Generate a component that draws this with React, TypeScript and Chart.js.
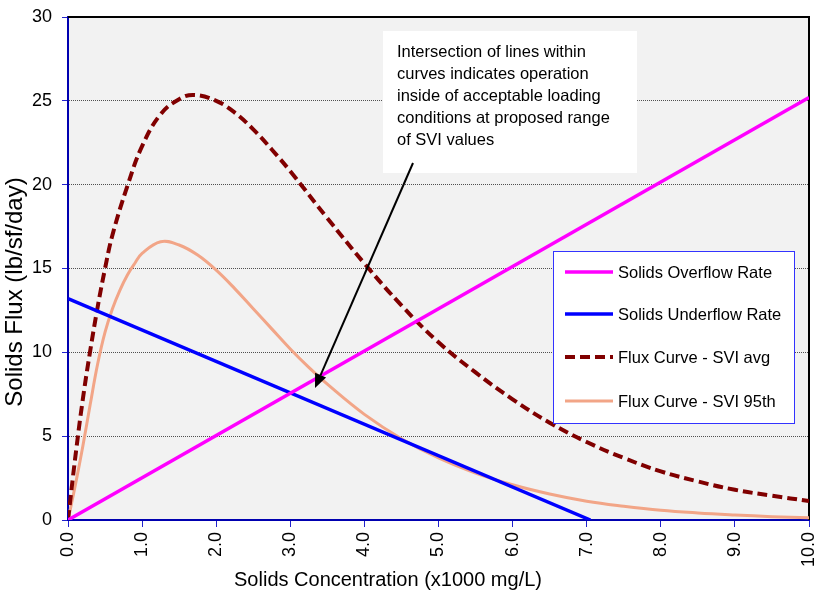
import { useEffect, useRef } from "react";
import { Chart, registerables } from "chart.js";

Chart.register(...registerables);

// ---------- data ----------
const xTickValues = [0, 1, 2, 3, 4, 5, 6, 7, 8, 9, 10];
const yTickValues = [0, 5, 10, 15, 20, 25, 30];

const overflowConc = [0, 10];
const overflowFlux = [0, 25.2];

const underflowConc = [0, 7.05];
const underflowFlux = [13.2, 0];

const avgConc = [0, 0.1, 0.2, 0.3, 0.4, 0.5, 0.6, 0.8, 1.0, 1.25, 1.5, 1.7, 2.0, 2.25, 2.5, 2.75, 3.0, 3.5, 4.0, 4.5, 5.0, 5.5, 6.0, 6.5, 7.0, 7.5, 8.0, 8.5, 9.0, 9.5, 10.0];
const avgFlux = [0, 3.8, 7.2, 10.1, 12.7, 15.0, 17.0, 19.9, 22.3, 24.2, 25.1, 25.35, 25.0, 24.3, 23.3, 22.1, 20.8, 18.0, 15.3, 12.8, 10.6, 8.8, 7.2, 5.8, 4.65, 3.7, 2.9, 2.3, 1.8, 1.45, 1.13];

const p95Conc = [0, 0.1, 0.2, 0.3, 0.4, 0.5, 0.6, 0.7, 0.8, 0.9, 1.0, 1.25, 1.5, 1.75, 2.0, 2.25, 2.5, 2.75, 3.0, 3.25, 3.5, 4.0, 4.5, 5.0, 5.5, 6.0, 6.5, 7.0, 7.5, 8.0, 8.5, 9.0, 9.5, 10.0];
const p95Flux = [0, 2.1, 4.4, 6.9, 9.3, 11.2, 12.6, 13.7, 14.6, 15.3, 15.9, 16.6, 16.4, 15.8, 14.9, 13.8, 12.6, 11.4, 10.2, 9.1, 8.1, 6.3, 4.85, 3.7, 2.8, 2.1, 1.55, 1.12, 0.82, 0.58, 0.42, 0.3, 0.2, 0.13];

const seriesNames = ["Solids Overflow Rate", "Solids Underflow Rate", "Flux Curve - SVI avg", "Flux Curve - SVI 95th"];
const seriesColors = ["#FF00FF", "#0000FF", "#800000", "#F2A587"];

const xTitle = "Solids Concentration (x1000 mg/L)";
const yTitle = "Solids Flux (lb/sf/day)";
const noteLines = [
  "Intersection of lines within",
  "curves indicates operation",
  "inside of acceptable loading",
  "conditions at proposed range",
  "of SVI values",
];

const FONT = '"Liberation Sans", Arial, sans-serif';

function pts(xs: number[], ys: number[]) {
  return xs.map((x, i) => ({ x, y: ys[i] }));
}

export default function App() {
  const ref = useRef<HTMLCanvasElement>(null);

  useEffect(() => {
    if (!ref.current) return;

    const bgPlugin = {
      id: "bgPlugin",
      beforeDraw(chart: any) {
        const { ctx, chartArea: a } = chart;
        ctx.save();
        ctx.fillStyle = "#F2F2F2";
        ctx.fillRect(a.left, a.top, a.right - a.left, a.bottom - a.top);
        ctx.restore();
      },
      beforeDatasetsDraw(chart: any) {
        const { ctx, chartArea: a } = chart;
        ctx.save();
        ctx.strokeStyle = "#000000";
        ctx.lineWidth = 2;
        ctx.beginPath();
        ctx.moveTo(a.left, a.top);
        ctx.lineTo(a.right, a.top);
        ctx.lineTo(a.right, a.bottom);
        ctx.stroke();
        ctx.restore();
      },
    };

    const overlayPlugin = {
      id: "overlayPlugin",
      afterDraw(chart: any) {
        const { ctx } = chart;
        ctx.save();
        // axis titles
        ctx.fillStyle = "#000";
        ctx.textAlign = "center";
        ctx.textBaseline = "middle";
        ctx.font = `20px ${FONT}`;
        ctx.fillText(xTitle, 388, 580);
        ctx.save();
        ctx.translate(15, 292);
        ctx.rotate(-Math.PI / 2);
        ctx.font = `24px ${FONT}`;
        ctx.fillText(yTitle, 0, 0);
        ctx.restore();

        // legend
        ctx.fillStyle = "#FFFFFF";
        ctx.fillRect(553, 251, 241, 172);
        ctx.strokeStyle = "#3333FF";
        ctx.lineWidth = 1;
        ctx.strokeRect(553.5, 251.5, 241, 172);
        const rows = [272, 314, 357, 401];
        chart.data.datasets.forEach((ds: any, i: number) => {
          const y = rows[i];
          ctx.save();
          ctx.strokeStyle = ds.borderColor;
          ctx.lineWidth = ds.borderWidth;
          ctx.setLineDash(ds.borderDash || []);
          ctx.beginPath();
          ctx.moveTo(565, y);
          ctx.lineTo(613, y);
          ctx.stroke();
          ctx.restore();
          ctx.fillStyle = "#000";
          ctx.textAlign = "left";
          ctx.textBaseline = "middle";
          ctx.font = `16.5px ${FONT}`;
          ctx.fillText(ds.label, 618, y + 1);
        });

        // annotation box
        ctx.fillStyle = "#FFFFFF";
        ctx.fillRect(383, 31, 254, 142);
        ctx.fillStyle = "#000";
        ctx.textAlign = "left";
        ctx.textBaseline = "middle";
        ctx.font = `16.5px ${FONT}`;
        noteLines.forEach((t, i) => ctx.fillText(t, 397, 52 + i * 22));

        // arrow
        const x0 = 413, y0 = 163, x1 = 315, y1 = 388;
        const ang = Math.atan2(y1 - y0, x1 - x0);
        const hl = 14, hw = 6;
        const bx = x1 - hl * Math.cos(ang), by = y1 - hl * Math.sin(ang);
        ctx.strokeStyle = "#000";
        ctx.lineWidth = 2;
        ctx.beginPath();
        ctx.moveTo(x0, y0);
        ctx.lineTo(bx, by);
        ctx.stroke();
        ctx.fillStyle = "#000";
        ctx.beginPath();
        ctx.moveTo(x1, y1);
        ctx.lineTo(bx + hw * Math.sin(ang), by - hw * Math.cos(ang));
        ctx.lineTo(bx - hw * Math.sin(ang), by + hw * Math.cos(ang));
        ctx.closePath();
        ctx.fill();
        ctx.restore();
      },
    };

    const chart = new Chart(ref.current, {
      type: "line",
      data: {
        datasets: [
          {
            label: seriesNames[0],
            data: pts(overflowConc, overflowFlux),
            borderColor: seriesColors[0],
            borderWidth: 3.5,
            pointRadius: 0,
            tension: 0,
          },
          {
            label: seriesNames[1],
            data: pts(underflowConc, underflowFlux),
            borderColor: seriesColors[1],
            borderWidth: 3.5,
            pointRadius: 0,
            tension: 0,
          },
          {
            label: seriesNames[2],
            data: pts(avgConc, avgFlux),
            borderColor: seriesColors[2],
            borderWidth: 4,
            borderDash: [10, 5],
            pointRadius: 0,
            tension: 0.4,
          },
          {
            label: seriesNames[3],
            data: pts(p95Conc, p95Flux),
            borderColor: seriesColors[3],
            borderWidth: 3,
            pointRadius: 0,
            tension: 0.4,
          },
        ],
      },
      options: {
        animation: false,
        responsive: false,
        events: [],
        layout: { padding: { top: 17, right: 5, left: 0, bottom: 0 } },
        plugins: {
          legend: { display: false },
          tooltip: { enabled: false },
        },
        scales: {
          x: {
            type: "linear",
            min: 0,
            max: 10,
            afterBuildTicks(scale: any) {
              scale.ticks = xTickValues.map((v) => ({ value: v }));
            },
            afterFit(scale: any) {
              scale.height = 73;
              scale.paddingLeft = 0;
              scale.paddingRight = 0;
            },
            ticks: {
              minRotation: 90,
              maxRotation: 90,
              padding: 5,
              color: "#000",
              font: { size: 18, family: FONT },
              callback: (v: any) => Number(v).toFixed(1),
            },
            grid: {
              drawOnChartArea: false,
              drawTicks: true,
              tickLength: 7,
              tickColor: "#2222CC",
              tickWidth: 1,
            },
            border: { display: true, color: "#0000B0", width: 2 },
          },
          y: {
            type: "linear",
            min: 0,
            max: 30,
            afterBuildTicks(scale: any) {
              scale.ticks = yTickValues.map((v) => ({ value: v }));
            },
            afterFit(scale: any) {
              scale.width = 68;
              scale.paddingTop = 0;
              scale.paddingBottom = 0;
            },
            ticks: {
              padding: 10,
              color: "#000",
              font: { size: 18, family: FONT },
              callback: (v: any) => String(v),
            },
            grid: {
              color: "#505050",
              lineWidth: 1,
              drawTicks: true,
              tickLength: 6,
              tickColor: "#2222CC",
              tickWidth: 1,
              tickBorderDash: [1, 0],
            },
            border: { display: true, color: "#0000B0", width: 2, dash: [1, 1] },
          },
        },
      },
      plugins: [bgPlugin, overlayPlugin],
    } as any);

    return () => chart.destroy();
  }, []);

  return (
    <div style={{ position: "absolute", left: 0, top: 0, width: 814, height: 593 }}>
      <canvas ref={ref} width={814} height={593} />
    </div>
  );
}
